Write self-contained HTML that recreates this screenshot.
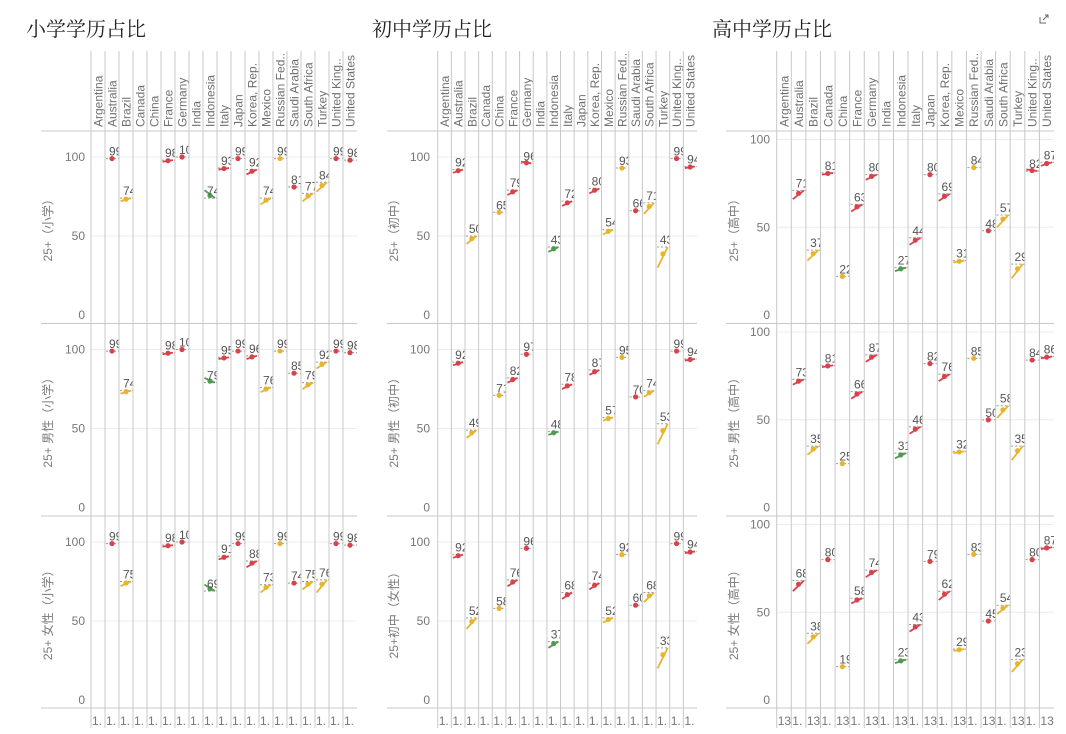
<!DOCTYPE html>
<html><head><meta charset="utf-8">
<style>
body{margin:0;background:#fff;width:1066px;height:734px;overflow:hidden;font-family:"Liberation Sans","Noto Sans CJK SC",sans-serif;}
.title{position:absolute;top:13px;font-family:"Liberation Serif","Noto Serif CJK SC",serif;font-size:20px;color:#222;}
</style></head><body>
<div class="title" style="left:26px">小学学历占比</div>
<div class="title" style="left:372px">初中学历占比</div>
<div class="title" style="left:712px">高中学历占比</div>
<svg width="10" height="10" style="position:absolute;left:1039px;top:14px"><path d="M1 3v6h6M4 6l5-5M6 1h3v3" fill="none" stroke="#666" stroke-width="1"/></svg>
<svg id="c" width="1066" height="734" style="position:absolute;left:0;top:0"></svg>
<script>
const countries=["Argentina","Australia","Brazil","Canada","China","France","Germany","India","Indonesia","Italy","Japan","Korea, Rep.","Mexico","Russian Fed..","Saudi Arabia","South Africa","Turkey","United King..","United States"];
const group=["r","r","y","r","y","r","r","y","g","r","r","r","y","y","r","y","y","r","r"];
const N=null;
const p1End=[[N,99,74,N,N,98,100,N,74,93,99,92,74,99,81,77,84,99,98],[N,99,74,N,N,98,100,N,79,95,99,96,76,99,85,79,92,99,98],[N,99,75,N,N,98,100,N,69,91,99,88,73,99,74,75,76,99,98]];
const p1Start=[[N,99,72,N,N,97,100,N,79,92,99,89,70,99,81,72,78,99,98],[N,99,72,N,N,97,100,N,82,94,99,94,73,99,85,75,88,99,98],[N,99,72,N,N,97,100,N,73,89,99,84,68,99,74,70,68,99,98]];
const p2End=[[N,92,50,N,65,79,96,N,43,72,N,80,54,93,66,71,43,99,94],[N,92,49,N,71,82,97,N,48,78,N,87,57,95,70,74,53,99,94],[N,92,52,N,58,76,96,N,37,68,N,74,52,92,60,68,33,99,94]];
const p2Start=[[N,90,45,N,65,76,97,N,40,69,N,77,51,93,66,64,30,99,93],[N,90,44,N,71,79,97,N,46,75,N,84,55,95,70,70,40,99,93],[N,90,45,N,58,72,96,N,33,64,N,70,49,92,60,62,20,99,93]];
const p3End=[[N,71,37,81,22,63,80,N,27,44,80,69,31,84,48,57,29,82,87],[N,73,35,81,25,66,87,N,31,46,82,76,32,85,50,58,35,84,86],[N,68,38,80,19,58,74,N,23,43,79,62,29,83,45,54,23,80,87]];
const p3Start=[[N,66,31,80,22,59,77,N,25,40,80,65,30,84,48,50,21,83,85],[N,70,30,80,25,62,83,N,28,42,82,72,31,85,50,51,27,84,85],[N,62,32,80,19,55,70,N,21,39,79,57,28,83,45,49,16,80,86]];
const yTicks=[0,50,100];
const rowLabels1=["25+（小学）","25+ 男性（小学）","25+ 女性（小学）"];
const rowLabels2=["25+（初中）","25+ 男性（初中）","25+初中（女性）"];
const rowLabels3=["25+（高中）","25+ 男性（高中）","25+ 女性（高中）"];

const panels=[
 {x0:91,x1:357,lx:41,tickX:85,labX:52,top100:26,end:p1End,start:p1Start,labels:rowLabels1,bottom:()=>"1."},
 {x0:437.7,x1:697,lx:387,tickX:430,labX:398,top100:26,end:p2End,start:p2Start,labels:rowLabels2,bottom:()=>"1."},
 {x0:776.7,x1:1054,lx:726,tickX:770,labX:738,top100:8.5,end:p3End,start:p3Start,labels:rowLabels3,bottom:i=>i%2?"1.":"13"}
];
const rowTops=[131,323.5,516];const rowH=192.5;
const colors={r:"#d9424a",y:"#e8b42c",g:"#4e9a4e"};
const svg=document.getElementById('c');const NS="http://www.w3.org/2000/svg";
function mk(t,a,p){const e=document.createElementNS(NS,t);for(const k in a)e.setAttribute(k,a[k]);(p||svg).appendChild(e);return e;}
let clipId=0;
panels.forEach((P,pi)=>{
 const cw=(P.x1-P.x0)/countries.length;
 const yS=(r,v)=>{const t=rowTops[r];const y100=t+P.top100,y0=t+184;return y0-(y0-y100)*v/100;};
 [131,323.5,516,708].forEach(y=>{const l=mk('line',{x1:P.lx,x2:P.x1,y1:y,y2:y,stroke:"#c8c8c8"});
  
  });
 for(let r=0;r<3;r++){
  yTicks.forEach(v=>{const y=yS(r,v);
   if(v>0){const g=mk('line',{x1:P.x0,x2:P.x1,y1:y,y2:y,stroke:"#ececec"});
    
    }
   const t=mk('text',{x:P.tickX,y:y+4,'text-anchor':'end','font-size':12,fill:"#777"});t.textContent=v;
   
   });
  const cy=rowTops[r]+rowH/2;
  const rl=mk('text',{x:P.labX,y:cy,'text-anchor':'middle','font-size':12,fill:"#7a7a7a",transform:`rotate(-90 ${P.labX} ${cy})`});rl.textContent=P.labels[r];
  
  
 }
 countries.forEach((c,i)=>{
  const x=P.x0+i*cw;
  const vl=mk('line',{x1:x,x2:x,y1:51,y2:728,stroke:"#c8c8c8"});
  
  
  const tx=x+cw/2+4.5;
  const h=mk('text',{x:tx,y:127,'font-size':12,fill:"#707070",transform:`rotate(-90 ${tx} 127)`});h.textContent=c;
  
  
  const b=mk('text',{x:x+1,y:725,'font-size':12,fill:"#777"});b.textContent=P.bottom(i);
  
  
  for(let r=0;r<3;r++){
   const v=P.end[r][i];if(v==null)continue;const s=P.start[r][i];
   const id='cl'+(clipId++);const cp=mk('clipPath',{id});mk('rect',{x:x,y:rowTops[r],width:cw,height:rowH},cp);
   const g=mk('g',{'clip-path':`url(#${id})`});
   
   
   const col=colors[group[i]];const ye=yS(r,v),ys=yS(r,s);
   mk('line',{x1:x+1,x2:x+cw,y1:ye,y2:ye,stroke:"#999","stroke-dasharray":"2,2"},g);
   if(s!==v){const ln=mk('line',{x1:x+1.5,x2:x+cw-2,y1:ys,y2:ye,stroke:col,'stroke-width':1.8},g);
    
    }
   const d=mk('circle',{cx:x+cw/2,cy:(ys+2*ye)/3,r:2.6,fill:col},g);
   
   
   const lb=mk('text',{x:x+cw/2-3,y:ye-3,'font-size':12,fill:"#555"},g);lb.textContent=v;
   
   
  }
 });
});
</script>
</body></html>
